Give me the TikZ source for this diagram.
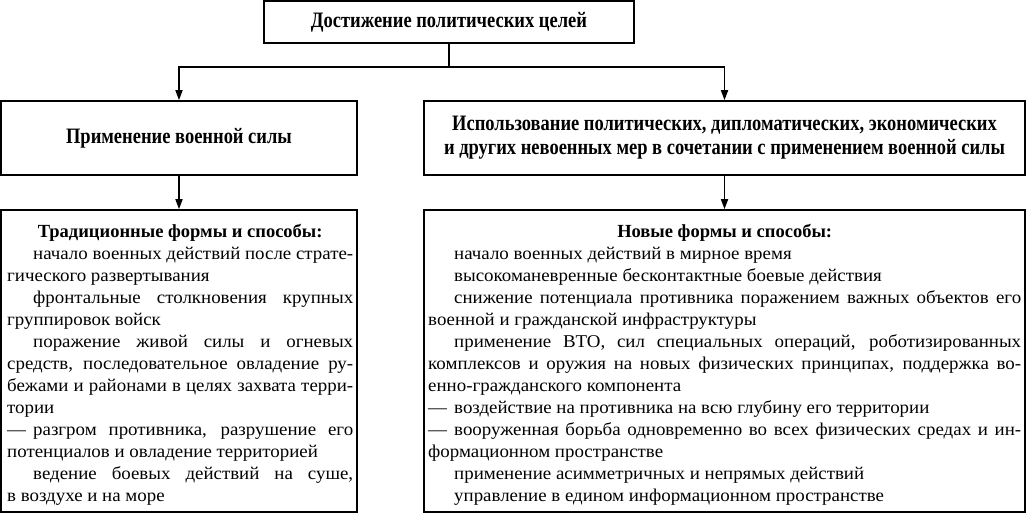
\documentclass[tikz,border=0pt]{standalone}
\usepackage{fontspec}
\setmainfont{Liberation Serif}
\newfontfamily\condfont[FakeStretch=0.84]{Liberation Serif}
\newfontfamily\bodyfont[FakeStretch=1.05]{Liberation Serif}
\usetikzlibrary{arrows.meta}
\newlength\Wd
\newcommand\jl[1]{\hbox to\Wd{#1}}
\newcommand\rl[1]{\hbox to\Wd{#1\hfil}}
\newcommand\cl[1]{\hbox to\Wd{\hfil#1\hfil}}
\newcommand\ind{\hskip 26pt}
\newcommand\dsh{\hbox to 26pt{—\hfil}}
\newcommand\titl[1]{{\rmfamily\bfseries\fontsize{18.5}{22}\selectfont #1}}
\begin{document}
\begin{tikzpicture}[x=1pt,y=-1pt,
  box/.style={draw, line width=1.6pt, inner sep=0pt},
  ln/.style={line width=1.6pt},
  arr/.style={line width=1.6pt, -{Triangle[length=10pt,width=7pt]}},
  head/.style={font=\condfont\bfseries\fontsize{22}{24}\selectfont, align=center},
  body/.style={anchor=base west, inner sep=0pt, font=\bodyfont\fontsize{18}{22}\selectfont}]
\useasboundingbox (0,0) rectangle (1027,514);
\node[box, minimum width=370pt, minimum height=42pt, head] (goal) at (449,22) {Достижение политических целей};
\node[box, minimum width=356pt, minimum height=74pt, head] (mil) at (179,138) {Применение военной силы};
\node[box, minimum width=601pt, minimum height=74pt, head] (nonmil) at (724.5,138) {Использование политических, дипломатических, экономических\\и других невоенных мер в сочетании с применением военной силы};
\node[box, minimum width=356pt, minimum height=302pt] (trad) at (179,361) {};
\node[box, minimum width=601pt, minimum height=302pt] (new) at (724.5,361) {};
\coordinate (j) at (449,67);
\draw[ln] (goal.south) -- (j);
\draw[arr] (j) -| (mil.north);
\draw[arr] (j) -| (nonmil.north);
\draw[arr] (mil.south) -- (trad.north);
\draw[arr] (nonmil.south) -- (new.north);
\node[body] (tradtext) at (7,237) {\vtop{\setlength\Wd{346pt}\baselineskip=22pt
  \cl{\titl{Традиционные формы и способы:}}
  \jl{\ind начало военных действий после страте-}
  \rl{гического развертывания}
  \jl{\ind фронтальные столкновения крупных}
  \rl{группировок войск}
  \jl{\ind поражение живой силы и огневых}
  \jl{средств, последовательное овладение ру-}
  \jl{бежами и районами в целях захвата терри-}
  \rl{тории}
  \jl{\dsh разгром противника, разрушение его}
  \rl{потенциалов и овладение территорией}
  \jl{\ind ведение боевых действий на суше,}
  \rl{в воздухе и на море}}};
\node[body] (newtext) at (428,237) {\vtop{\setlength\Wd{593pt}\baselineskip=22pt
  \cl{\titl{Новые формы и способы:}}
  \rl{\ind начало военных действий в мирное время}
  \rl{\ind высокоманевренные бесконтактные боевые действия}
  \jl{\ind снижение потенциала противника поражением важных объектов его}
  \rl{военной и гражданской инфраструктуры}
  \jl{\ind применение ВТО, сил специальных операций, роботизированных}
  \jl{комплексов и оружия на новых физических принципах, поддержка во-}
  \rl{енно-гражданского компонента}
  \rl{\dsh воздействие на противника на всю глубину его территории}
  \jl{\dsh вооруженная борьба одновременно во всех физических средах и ин-}
  \rl{формационном пространстве}
  \rl{\ind применение асимметричных и непрямых действий}
  \rl{\ind управление в едином информационном пространстве}}};
\end{tikzpicture}
\end{document}
